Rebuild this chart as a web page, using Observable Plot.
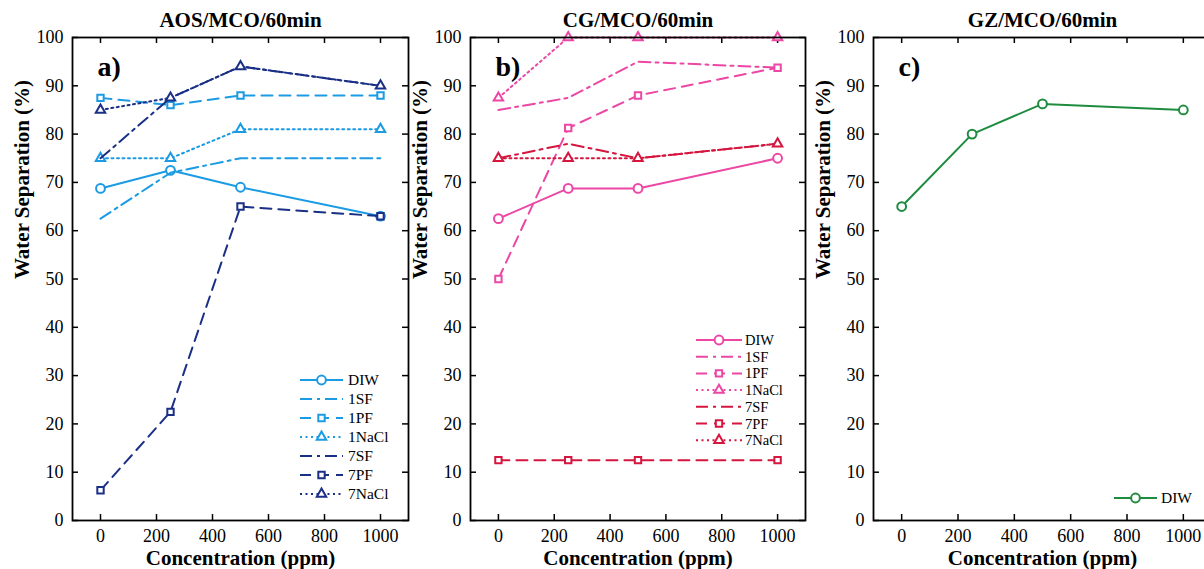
<!DOCTYPE html>
<html><head><meta charset="utf-8">
<script src="https://cdn.jsdelivr.net/npm/d3@7"></script>
<script src="https://cdn.jsdelivr.net/npm/@observablehq/plot@0.6"></script>
<style>
body{margin:0;background:#fff;}
#wrap{position:relative;width:1204px;height:569px;overflow:hidden;background:#fff;}
.panel{position:absolute;top:0;}
.panel svg{max-width:none !important;}
.panel svg, .panel svg text{font-family:"Liberation Serif","Times New Roman",serif !important;}
</style></head><body><div id="wrap"></div>
<script>
// ---------- data ----------
const conc = [0, 250, 500, 1000];
const xTicks = [0, 200, 400, 600, 800, 1000];
const yTicks = [0, 10, 20, 30, 40, 50, 60, 70, 80, 90, 100];
const seriesNames = ["DIW", "1SF", "1PF", "1NaCl", "7SF", "7PF", "7NaCl"];
const panelTitles = ["AOS/MCO/60min", "CG/MCO/60min", "GZ/MCO/60min"];
const panelLetters = ["a)", "b)", "c)"];

// Panel a: AOS
const aosDIW   = [68.75, 72.5, 69, 63];
const aos1SF   = [62.5, 72, 75, 75];
const aos1PF   = [87.5, 86, 88, 88];
const aos1NaCl = [75, 75, 81, 81];
const aos7SF   = [75, 87.5, 94, 90];
const aos7PF   = [6.25, 22.5, 65, 63];
const aos7NaCl = [85, 87.5, 94, 90];
// Panel b: CG
const cgDIW   = [62.5, 68.75, 68.75, 75];
const cg1SF   = [85, 87.5, 95, 93.75];
const cg1PF   = [50, 81.25, 88, 93.75];
const cg1NaCl = [87.5, 100, 100, 100];
const cg7SF   = [75, 78, 75, 78];
const cg7PF   = [12.5, 12.5, 12.5, 12.5];
const cg7NaCl = [75, 75, 75, 78];
// Panel c: GZ
const gzDIW = [65, 80, 86.25, 85];

// ---------- styles ----------
const FONT = "'Liberation Serif', 'Times New Roman', serif";
const lineStyle = {
  "DIW":   {dash: null,        symbol: "circle"},
  "1SF":   {dash: "12,5,3,5",  symbol: null},
  "1PF":   {dash: "11,7",      symbol: "square"},
  "1NaCl": {dash: "2,3.5",     symbol: "triangle"},
  "7SF":   {dash: "12,5,3,5",  symbol: null},
  "7PF":   {dash: "11,7",      symbol: "square"},
  "7NaCl": {dash: "2,3.5",     symbol: "triangle"}
};
const symR = {circle: 4.4, square: 3.6, triangle: 3.5};

const panels = [
  {values: [aosDIW, aos1SF, aos1PF, aos1NaCl, aos7SF, aos7PF, aos7NaCl], names: seriesNames,
   colors: ["#1b9be3","#1b9be3","#1b9be3","#1b9be3","#1a2f86","#1a2f86","#1a2f86"],
   left: 0, width: 420, ml: 72, mr: 12,
   legend: {x: 300, len: 43, tx: 348, y: 380, dy: 19, fs: 15.5}},
  {values: [cgDIW, cg1SF, cg1PF, cg1NaCl, cg7SF, cg7PF, cg7NaCl], names: seriesNames,
   colors: ["#ec47a4","#ec47a4","#ec47a4","#ec47a4","#d5163f","#d5163f","#d5163f"],
   left: 405, width: 410, ml: 65, mr: 10,
   legend: {x: 291, len: 46, tx: 340, y: 340, dy: 16.7, fs: 14.5}},
  {values: [gzDIW], names: ["DIW"],
   colors: ["#1e8c3f"],
   left: 810, width: 420, ml: 63, mr: 19,
   legend: {x: 304, len: 43, tx: 351, y: 498, dy: 17, fs: 15.5}}
];

const H = 569, MT = 37, MB = 49;
const wrap = document.getElementById("wrap");

panels.forEach((p, pi) => {
  const rows = [];
  p.values.forEach((vals, si) => vals.forEach((v, i) => rows.push({s: p.names[si], si, x: conc[i], y: v})));
  const frameW = p.width - p.ml - p.mr, frameH = H - MT - MB;
  const marks = [];
  p.names.forEach((name, si) => {
    const d = rows.filter(r => r.si === si);
    const st = lineStyle[name];
    marks.push(Plot.line(d, {x: "x", y: "y", stroke: p.colors[si], strokeWidth: 2,
      strokeDasharray: st.dash, strokeLinejoin: "round"}));
    if (st.symbol) marks.push(Plot.dot(d, {x: "x", y: "y", symbol: st.symbol, r: symR[st.symbol],
      stroke: p.colors[si], strokeWidth: 2, fill: "white"}));
  });
  const plot = Plot.plot({
    width: p.width, height: H,
    marginLeft: p.ml, marginRight: p.mr, marginTop: MT, marginBottom: MB,
    style: {fontFamily: FONT, fontSize: "18px", color: "#000", background: "transparent", overflow: "visible", maxWidth: "none"},
    x: {domain: [-100, 1100]},
    y: {domain: [0, 100]},
    marks: [
      Plot.axisX(xTicks, {tickSize: 0, tickPadding: 9, fontSize: 18, label: null, tickFormat: d => String(d)}),
      Plot.axisY(yTicks, {tickSize: 0, tickPadding: 9, fontSize: 18, label: null, tickFormat: d => String(d)}),
      Plot.ruleX(xTicks, {x: d => d, insetTop: frameH - 6, stroke: "#000", strokeWidth: 1.5}),
      Plot.ruleX(xTicks, {x: d => d, insetBottom: frameH - 6, stroke: "#000", strokeWidth: 1.5}),
      Plot.ruleY(yTicks, {y: d => d, insetRight: frameW - 6, stroke: "#000", strokeWidth: 1.5}),
      Plot.ruleY(yTicks, {y: d => d, insetLeft: frameW - 6, stroke: "#000", strokeWidth: 1.5}),
      ...marks,
      Plot.frame({stroke: "#000", strokeWidth: 1.8}),
      Plot.text([panelTitles[pi]], {frameAnchor: "top", dy: -17, fontWeight: "bold", fontSize: 21, lineAnchor: "middle"}),
      Plot.text(["Concentration (ppm)"], {frameAnchor: "bottom", dy: 38, fontWeight: "bold", fontSize: 21, lineAnchor: "middle"}),
      Plot.text(["Water Separation (%)"], {frameAnchor: "left", dx: -50, rotate: -90, fontWeight: "bold", fontSize: 21, lineAnchor: "middle"}),
      Plot.text([panelLetters[pi]], {frameAnchor: "top-left", dx: 25, dy: 30, fontWeight: "bold", fontSize: 28, textAnchor: "start", lineAnchor: "middle"})
    ]
  });
  // legend
  const svg = d3.select(plot);
  const lg = svg.append("g").attr("font-family", FONT).attr("font-size", p.legend.fs).attr("text-anchor", "start");
  p.names.forEach((name, si) => {
    const st = lineStyle[name];
    const y = p.legend.y + si * p.legend.dy;
    const x0 = p.legend.x, x1 = p.legend.x + p.legend.len, xm = (x0 + x1) / 2;
    lg.append("line").attr("x1", x0).attr("x2", x1).attr("y1", y).attr("y2", y)
      .attr("stroke", p.colors[si]).attr("stroke-width", 2)
      .attr("stroke-dasharray", st.dash || null);
    if (st.symbol) {
      const sym = {circle: d3.symbolCircle, square: d3.symbolSquare, triangle: d3.symbolTriangle}[st.symbol];
      const r = symR[st.symbol];
      lg.append("path").attr("d", d3.symbol(sym, Math.PI * r * r)())
        .attr("transform", `translate(${xm},${y})`)
        .attr("fill", "white").attr("stroke", p.colors[si]).attr("stroke-width", 2);
    }
    lg.append("text").attr("x", p.legend.tx).attr("y", y).attr("dy", "0.35em")
      .attr("text-anchor", "start").attr("fill", "#000").text(name);
  });
  const div = document.createElement("div");
  div.className = "panel";
  div.style.left = p.left + "px";
  div.style.width = p.width + "px";
  div.appendChild(plot);
  wrap.appendChild(div);
});
</script></body></html>
